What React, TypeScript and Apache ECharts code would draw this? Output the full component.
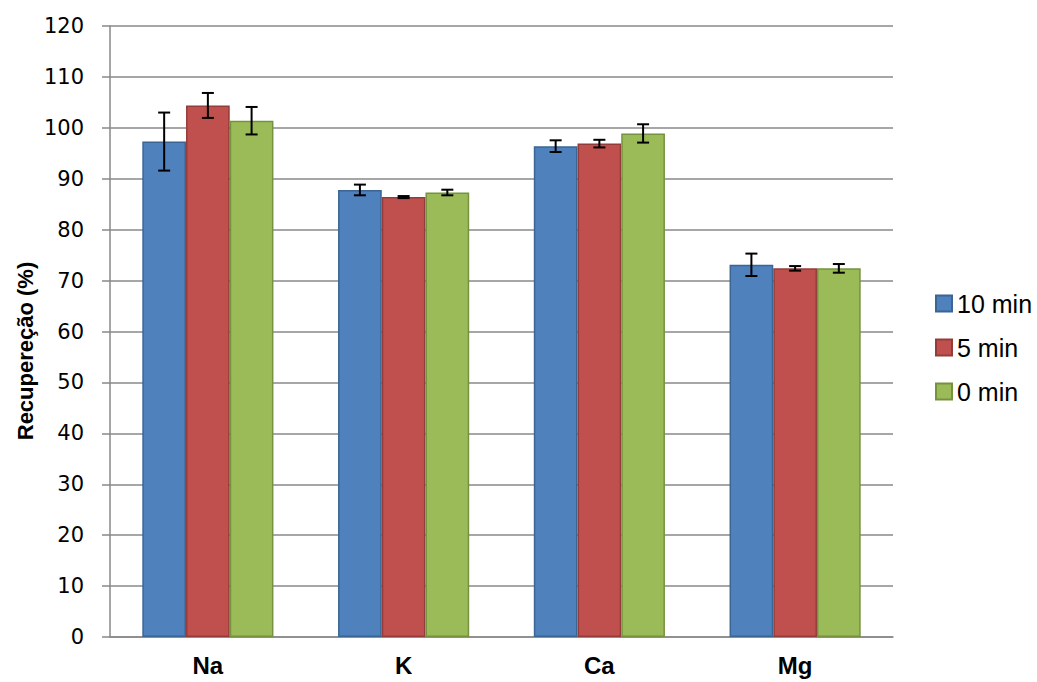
import React, { useEffect, useRef } from "react";
import * as echarts from "echarts";

const categories = ["Na", "K", "Ca", "Mg"];
const seriesNames = ["10 min", "5 min", "0 min"];
const values10 = [97.3, 87.8, 96.4, 73.1];
const values5 = [104.4, 86.4, 96.9, 72.4];
const values0 = [101.4, 87.3, 98.9, 72.4];
const err10 = [5.7, 1.05, 1.15, 2.2];
const err5 = [2.45, 0.2, 0.75, 0.45];
const err0 = [2.7, 0.55, 1.8, 0.85];
const yTicks = [0, 10, 20, 30, 40, 50, 60, 70, 80, 90, 100, 110, 120];

const colors = ["#4F81BD", "#C0504D", "#9BBB59"];
const borders = ["#3A6594", "#943C3A", "#76923F"];

export default function App() {
  const ref = useRef<HTMLDivElement>(null);
  useEffect(() => {
    if (!ref.current) return;
    const chart = echarts.init(ref.current, undefined, { renderer: "svg" });
    const allValues = [values10, values5, values0];
    const allErr = [err10, err5, err0];
    const catGap = 0.33;

    const barSeries = allValues.map((vals, i) => ({
      name: seriesNames[i],
      type: "bar",
      data: vals,
      barGap: "0%",
      barCategoryGap: "33%",
      itemStyle: { color: colors[i], borderColor: borders[i], borderWidth: 1.5 },
      z: 2,
    }));

    const errSeries = allValues.map((vals, i) => ({
      type: "custom",
      name: "err" + i,
      data: vals.map((v, j) => [j, v - allErr[i][j], v + allErr[i][j]]),
      z: 5,
      silent: true,
      renderItem: (params: any, api: any) => {
        const x = api.value(0);
        const lo = api.coord([x, api.value(1)]);
        const hi = api.coord([x, api.value(2)]);
        const catW = api.size([1, 0])[0];
        const bw = (catW * (1 - catGap)) / 3;
        const cx = lo[0] + (i - 1) * bw;
        const hw = 6;
        const style = { stroke: "#000", lineWidth: 2 };
        return {
          type: "group",
          children: [
            { type: "line", shape: { x1: cx, y1: lo[1], x2: cx, y2: hi[1] }, style },
            { type: "line", shape: { x1: cx - hw, y1: lo[1], x2: cx + hw, y2: lo[1] }, style },
            { type: "line", shape: { x1: cx - hw, y1: hi[1], x2: cx + hw, y2: hi[1] }, style },
          ],
        };
      },
    }));

    chart.setOption({
      animation: false,
      grid: { left: 110, right: 144, top: 26, bottom: 45, containLabel: false },
      legend: {
        data: seriesNames,
        orient: "vertical",
        left: 935,
        top: 291,
        padding: 0,
        itemWidth: 16,
        itemHeight: 16,
        itemGap: 19,
        textStyle: { fontFamily: "Liberation Sans", fontSize: 25, color: "#000" },
        icon: "rect",
      },
      xAxis: {
        type: "category",
        data: categories,
        axisLine: { lineStyle: { color: "#888", width: 1.5 } },
        axisTick: { show: false },
        axisLabel: {
          margin: 16,
          fontFamily: "Liberation Sans",
          fontWeight: "bold",
          fontSize: 24,
          color: "#000",
        },
      },
      yAxis: {
        type: "value",
        min: 0,
        max: 120,
        interval: 10,
        axisLine: { show: true, lineStyle: { color: "#888", width: 1.5 } },
        axisTick: { show: true, inside: false, length: 8, lineStyle: { color: "#888", width: 1.5 } },
        splitLine: { lineStyle: { color: "#888", width: 1.5 } },
        axisLabel: {
          margin: 26,
          fontFamily: "DejaVu Sans",
          fontSize: 21,
          color: "#000",
          formatter: (v: number) => (yTicks.includes(v) ? String(v) : ""),
        },
      },
      graphic: [
        {
          type: "text",
          x: 25,
          y: 351,
          rotation: Math.PI / 2,
          style: {
            text: "Recupereção (%)",
            fontFamily: "Liberation Sans",
            fontWeight: "bold",
            fontSize: 22,
            fill: "#000",
            align: "center",
            verticalAlign: "middle",
          },
        },
      ],
      series: [...barSeries, ...errSeries],
    });
    return () => chart.dispose();
  }, []);
  return <div ref={ref} style={{ width: 1037, height: 682, position: "absolute", left: 0, top: 0 }} />;
}
